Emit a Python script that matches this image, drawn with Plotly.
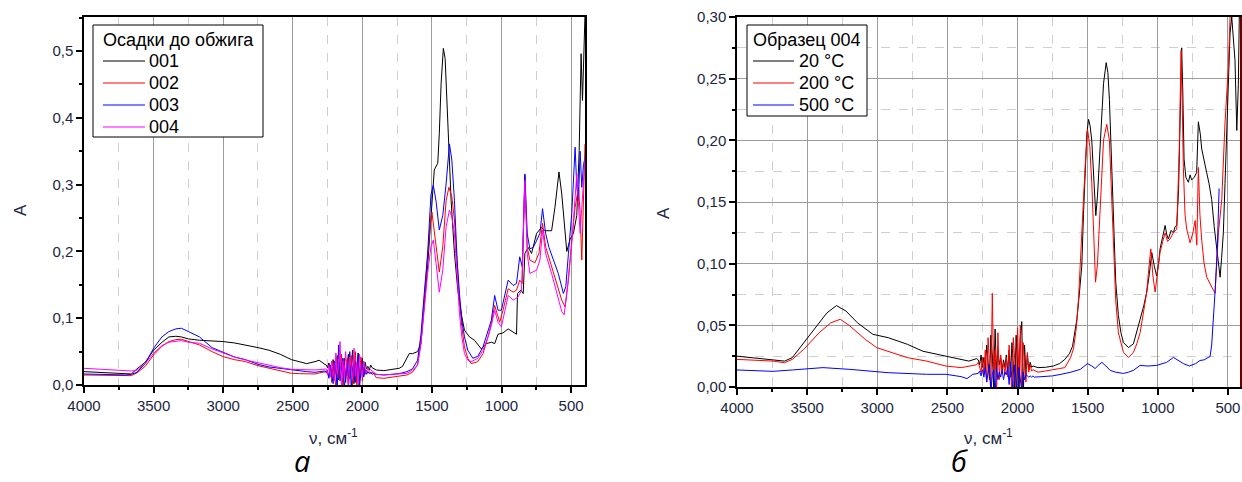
import plotly.graph_objects as go

# ---------------- Panel а : "Осадки до обжига" ----------------
L_HEAD_NU = [4000, 3900, 3780, 3700, 3660, 3620, 3560, 3500, 3440, 3390, 3340, 3300, 3250,
             3170, 3080, 3000, 2920, 2840, 2750, 2670, 2590, 2510, 2450, 2400, 2340, 2310, 2270]
L_NOISE_NU = [2260, 2250, 2240, 2230, 2220, 2210, 2200, 2190, 2180, 2170, 2160, 2150, 2140,
              2130, 2120, 2110, 2100, 2090, 2080, 2070, 2060, 2050, 2040, 2030, 2020, 2010,
              2000, 1990, 1980, 1970, 1960, 1950, 1940, 1930, 1920]

s001_head = [0.020, 0.019, 0.0185, 0.017, 0.0165, 0.024, 0.034, 0.052, 0.064, 0.072, 0.073, 0.072,
             0.069, 0.067, 0.066, 0.065, 0.063, 0.060, 0.056, 0.052, 0.046, 0.038, 0.035, 0.032,
             0.035, 0.037, 0.031]
s001_noise = [0.030, 0.026, 0.033, 0.024, 0.020, 0.038, 0.012, 0.030, 0.044, 0.008, 0.026, 0.034,
              0.016, 0.040, 0.004, 0.030, 0.046, 0.010, 0.024, 0.052, 0.002, 0.036, 0.020, 0.048,
              0.006, 0.030, 0.040, 0.014, 0.034, 0.024, 0.028, 0.022, 0.030, 0.026, 0.025]
s001_tail_nu = [1900, 1845, 1790, 1735, 1711, 1687, 1663, 1639, 1603, 1579, 1555, 1531, 1507, 1483,
                1458, 1447, 1434, 1418, 1405, 1391, 1381, 1362, 1338, 1314, 1285, 1266, 1230, 1194,
                1145, 1109, 1073, 1049, 1025, 989, 952, 916, 892, 885, 861, 844, 832, 808, 784, 748,
                712, 688, 640, 616, 587, 567, 555, 531, 507, 483, 459, 442, 428, 418, 411, 400]
s001_tail = [0.0225, 0.0215, 0.023, 0.025, 0.028, 0.037, 0.047, 0.047, 0.050, 0.062, 0.117, 0.177,
             0.250, 0.322, 0.332, 0.376, 0.451, 0.504, 0.489, 0.426, 0.381, 0.276, 0.197, 0.142,
             0.102, 0.082, 0.072, 0.067, 0.054, 0.062, 0.064, 0.062, 0.076, 0.078, 0.084, 0.079,
             0.076, 0.137, 0.142, 0.137, 0.197, 0.206, 0.197, 0.227, 0.236, 0.231, 0.231, 0.266,
             0.319, 0.286, 0.254, 0.200, 0.218, 0.227, 0.254, 0.351, 0.496, 0.426, 0.476, 0.555]

s002_head = [0.015, 0.0145, 0.014, 0.0135, 0.014, 0.018, 0.028, 0.045, 0.058, 0.065, 0.068, 0.0685,
             0.065, 0.060, 0.050, 0.0425, 0.038, 0.035, 0.029, 0.025, 0.021, 0.0175, 0.017, 0.0165,
             0.0165, 0.018, 0.019]
s002_noise = [0.020, 0.016, 0.012, 0.028, 0.004, 0.034, 0.018, -0.004, 0.040, 0.010, 0.022, 0.046,
              -0.006, 0.030, 0.012, 0.038, -0.004, 0.020, 0.044, 0.000, 0.026, 0.050, -0.005, 0.034,
              0.014, 0.042, 0.006, 0.026, 0.016, 0.022, 0.018, 0.020, 0.017, 0.019, 0.018]
s002_tail_nu = [1900, 1845, 1790, 1735, 1679, 1640, 1603, 1579, 1555, 1531, 1514, 1500, 1483, 1463,
                1447, 1422, 1398, 1378, 1357, 1338, 1319, 1302, 1285, 1266, 1242, 1218, 1170, 1133,
                1097, 1073, 1049, 1025, 1013, 989, 952, 916, 892, 869, 851, 832, 815, 796, 760, 731,
                705, 683, 640, 604, 567, 543, 519, 495, 471, 447, 435, 423, 411, 400]
s002_tail = [0.011, 0.010, 0.012, 0.013, 0.015, 0.019, 0.030, 0.065, 0.132, 0.187, 0.237, 0.259,
             0.232, 0.192, 0.169, 0.207, 0.276, 0.296, 0.282, 0.247, 0.177, 0.126, 0.087, 0.057,
             0.040, 0.032, 0.035, 0.047, 0.072, 0.092, 0.119, 0.102, 0.094, 0.112, 0.144, 0.139,
             0.142, 0.157, 0.152, 0.314, 0.206, 0.187, 0.183, 0.197, 0.242, 0.207, 0.177, 0.152,
             0.127, 0.117, 0.157, 0.217, 0.266, 0.296, 0.257, 0.187, 0.276, 0.361]

s003_head = [0.0165, 0.016, 0.0155, 0.015, 0.016, 0.019, 0.032, 0.055, 0.072, 0.080, 0.084, 0.085,
             0.080, 0.072, 0.056, 0.049, 0.042, 0.038, 0.031, 0.027, 0.025, 0.022, 0.021, 0.020,
             0.019, 0.020, 0.021]
s003_noise = [0.019, 0.022, 0.010, 0.030, 0.016, 0.002, 0.036, 0.020, -0.006, 0.060, 0.006, 0.026,
              0.040, -0.005, 0.018, 0.032, 0.008, 0.050, -0.006, 0.024, 0.036, 0.004, 0.028, 0.044,
              -0.004, 0.022, 0.030, 0.012, 0.024, 0.016, 0.020, 0.017, 0.019, 0.016, 0.017]
s003_tail_nu = [1900, 1845, 1790, 1735, 1679, 1640, 1603, 1579, 1555, 1531, 1507, 1490, 1470, 1447,
                1422, 1398, 1374, 1357, 1338, 1319, 1302, 1285, 1266, 1242, 1206, 1170, 1133, 1097,
                1073, 1049, 1025, 1001, 977, 952, 916, 892, 869, 851, 832, 815, 796, 772, 748, 724,
                705, 683, 659, 628, 592, 555, 538, 519, 495, 471, 459, 447, 435, 423, 411, 400]
s003_tail = [0.016, 0.015, 0.016, 0.017, 0.020, 0.024, 0.037, 0.075, 0.137, 0.196, 0.285, 0.299,
             0.275, 0.232, 0.254, 0.301, 0.361, 0.337, 0.276, 0.187, 0.137, 0.097, 0.072, 0.052,
             0.040, 0.043, 0.057, 0.082, 0.097, 0.134, 0.112, 0.112, 0.132, 0.157, 0.149, 0.152,
             0.192, 0.177, 0.316, 0.226, 0.204, 0.206, 0.216, 0.227, 0.264, 0.227, 0.206, 0.187,
             0.167, 0.137, 0.147, 0.197, 0.257, 0.356, 0.296, 0.276, 0.350, 0.296, 0.330, 0.340]

s004_head = [0.025, 0.024, 0.023, 0.0225, 0.021, 0.022, 0.032, 0.0475, 0.059, 0.064, 0.066, 0.0665,
             0.064, 0.0625, 0.054, 0.0475, 0.042, 0.0375, 0.033, 0.029, 0.026, 0.0235, 0.023,
             0.0225, 0.0225, 0.023, 0.024]
s004_noise = [0.024, 0.018, 0.030, 0.012, 0.036, 0.022, 0.006, 0.048, 0.016, 0.030, 0.065, -0.006,
              0.036, 0.010, 0.050, 0.020, -0.004, 0.042, 0.026, 0.008, 0.055, 0.014, 0.034, -0.004,
              0.046, 0.020, 0.012, 0.036, 0.024, 0.018, 0.026, 0.021, 0.023, 0.021, 0.020]
s004_tail_nu = [1900, 1845, 1790, 1735, 1679, 1640, 1603, 1579, 1555, 1531, 1507, 1490, 1470, 1447,
                1422, 1398, 1374, 1357, 1338, 1319, 1302, 1285, 1266, 1242, 1218, 1170, 1133, 1097,
                1073, 1049, 1025, 1001, 977, 952, 916, 880, 856, 832, 815, 796, 748, 724, 705, 683,
                640, 604, 567, 550, 531, 495, 476, 459, 435, 418, 400]
s004_tail = [0.016, 0.015, 0.016, 0.017, 0.0175, 0.022, 0.030, 0.060, 0.117, 0.167, 0.207, 0.217,
             0.182, 0.139, 0.172, 0.237, 0.262, 0.252, 0.227, 0.157, 0.107, 0.072, 0.047, 0.037,
             0.035, 0.040, 0.052, 0.072, 0.089, 0.112, 0.094, 0.087, 0.112, 0.134, 0.127, 0.132,
             0.142, 0.306, 0.196, 0.167, 0.172, 0.187, 0.232, 0.197, 0.167, 0.137, 0.110, 0.105,
             0.137, 0.212, 0.266, 0.316, 0.227, 0.276, 0.340]

LEFT_TITLE = "Осадки до обжига"
LEFT_NAMES = ["001", "002", "003", "004"]
LEFT_COLORS = ["#000000", "#ff0000", "#0000ff", "#ff00ff"]

# ---------------- Panel б : "Образец 004" ----------------
R_NOISE_NU = [2280, 2270, 2260, 2250, 2240, 2230, 2220, 2210, 2200, 2190, 2180, 2170, 2160, 2150,
              2140, 2130, 2120, 2110, 2100, 2090, 2080, 2070, 2060, 2050, 2040, 2030, 2020, 2010,
              2000, 1990, 1980, 1970, 1960, 1950, 1940, 1930, 1920, 1910, 1900, 1890]

t20_head_nu = [4000, 3880, 3743, 3661, 3606, 3524, 3442, 3360, 3291, 3223, 3141, 3031, 2922, 2785,
               2675, 2566, 2456, 2347, 2292]
t20_head = [0.025, 0.0238, 0.0224, 0.021, 0.0238, 0.036, 0.048, 0.060, 0.066, 0.0616, 0.052, 0.0427,
            0.040, 0.0346, 0.029, 0.0265, 0.0238, 0.021, 0.023]
t20_noise = [0.022, 0.018, 0.026, 0.016, 0.024, 0.014, 0.034, 0.020, 0.006, 0.042, 0.026, 0.000,
             0.047, 0.012, 0.030, 0.018, 0.024, 0.014, 0.022, 0.016, 0.026, 0.012, 0.030, 0.008,
             0.036, 0.018, -0.004, 0.042, 0.020, -0.010, 0.040, 0.053, -0.012, 0.034, 0.010, 0.026,
             0.014, 0.020, 0.016, 0.017]
t20_tail_nu = [1854, 1800, 1745, 1700, 1663, 1630, 1608, 1590, 1577, 1560, 1542, 1530, 1518, 1506,
               1494, 1483, 1471, 1458, 1442, 1430, 1411, 1400, 1387, 1368, 1356, 1345, 1330, 1316,
               1300, 1281, 1263, 1245, 1209, 1174, 1150, 1126, 1100, 1079, 1060, 1043, 1025, 1008,
               995, 984, 965, 948, 937, 925, 905, 889, 877, 865, 852, 842, 830, 822, 813, 800, 782,
               770, 759, 740, 723, 711, 697, 687, 670, 652, 635, 616, 598, 580, 556, 545, 533, 521,
               509, 497, 485, 473, 462, 450, 437, 426, 418, 405]
t20_tail = [0.0157, 0.016, 0.017, 0.019, 0.0224, 0.027, 0.033, 0.045, 0.055, 0.075, 0.098, 0.14,
            0.179, 0.205, 0.217, 0.212, 0.200, 0.170, 0.139, 0.155, 0.193, 0.220, 0.246, 0.263,
            0.255, 0.233, 0.180, 0.125, 0.085, 0.058, 0.044, 0.036, 0.032, 0.035, 0.044, 0.055,
            0.066, 0.077, 0.092, 0.109, 0.098, 0.090, 0.100, 0.112, 0.122, 0.131, 0.124, 0.120,
            0.127, 0.125, 0.130, 0.131, 0.160, 0.206, 0.275, 0.240, 0.185, 0.170, 0.166, 0.172,
            0.168, 0.170, 0.174, 0.215, 0.205, 0.193, 0.185, 0.174, 0.165, 0.152, 0.130, 0.114,
            0.089, 0.105, 0.125, 0.165, 0.203, 0.250, 0.287, 0.300, 0.279, 0.265, 0.208, 0.245,
            0.310, 0.330]

t200_head_nu = [4000, 3880, 3743, 3661, 3606, 3524, 3414, 3332, 3264, 3195, 3086, 3004, 2894, 2785,
                2648, 2511, 2402, 2319, 2292]
t200_head = [0.0224, 0.0219, 0.021, 0.0197, 0.0224, 0.0305, 0.044, 0.052, 0.0549, 0.0495, 0.0386,
             0.0319, 0.0278, 0.0238, 0.021, 0.017, 0.0157, 0.017, 0.018]
t200_noise = [0.020, 0.016, 0.012, 0.024, 0.010, 0.030, 0.004, 0.040, 0.014, -0.006, 0.076, 0.010,
              0.030, -0.008, 0.044, 0.006, 0.026, 0.012, 0.020, 0.010, 0.024, 0.008, 0.034, 0.014,
              -0.006, 0.040, 0.022, -0.010, 0.048, 0.010, 0.050, -0.008, 0.036, 0.020, 0.004, 0.028,
              0.012, 0.018, 0.013, 0.014]
t200_tail_nu = [1854, 1800, 1745, 1700, 1663, 1622, 1601, 1580, 1565, 1554, 1535, 1518, 1501, 1485,
                1471, 1458, 1444, 1430, 1411, 1400, 1387, 1364, 1345, 1330, 1316, 1300, 1281, 1245,
                1209, 1174, 1150, 1126, 1103, 1079, 1065, 1050, 1035, 1019, 1000, 984, 965, 948, 930,
                913, 890, 865, 847, 834, 826, 818, 806, 794, 770, 750, 734, 722, 711, 700, 687, 670,
                651, 630, 615, 592, 568, 544, 521, 497, 485, 470, 440, 405]
t200_tail = [0.012, 0.013, 0.0138, 0.015, 0.0157, 0.0238, 0.031, 0.049, 0.072, 0.098, 0.140, 0.179,
             0.209, 0.195, 0.166, 0.120, 0.085, 0.100, 0.139, 0.170, 0.200, 0.213, 0.200, 0.160,
             0.112, 0.070, 0.044, 0.028, 0.024, 0.028, 0.035, 0.044, 0.060, 0.077, 0.095, 0.112,
             0.090, 0.077, 0.095, 0.109, 0.118, 0.125, 0.118, 0.120, 0.125, 0.128, 0.193, 0.273,
             0.230, 0.178, 0.140, 0.128, 0.117, 0.125, 0.135, 0.115, 0.178, 0.140, 0.119, 0.100,
             0.089, 0.085, 0.081, 0.076, 0.125, 0.152, 0.214, 0.260, 0.300, 0.320, 0.330, 0.330]

t500_head_nu = [4000, 3743, 3606, 3387, 3195, 2922, 2648, 2511, 2402, 2360, 2319, 2292]
t500_head = [0.0138, 0.0127, 0.0138, 0.0157, 0.0143, 0.0116, 0.0103, 0.0103, 0.0084, 0.0068, 0.0103,
             0.011]
t500_noise = [0.011, 0.013, 0.009, 0.014, 0.008, 0.016, 0.004, 0.012, 0.018, -0.004, 0.010, 0.014,
              -0.006, 0.016, 0.006, 0.012, 0.008, 0.014, 0.006, 0.012, 0.010, 0.016, 0.002, 0.020,
              0.010, -0.006, 0.018, 0.004, -0.008, 0.016, 0.008, -0.004, 0.012, 0.006, 0.010, 0.009,
              0.008, 0.009, 0.008, 0.009]
t500_tail_nu = [1880, 1827, 1750, 1690, 1620, 1553, 1501, 1470, 1447, 1420, 1399, 1370, 1340, 1300,
                1245, 1210, 1174, 1126, 1070, 1008, 937, 889, 860, 818, 775, 759, 730, 699, 670, 640,
                628, 616, 600, 592, 576, 563]
t500_tail = [0.008, 0.0084, 0.009, 0.0103, 0.012, 0.0143, 0.019, 0.017, 0.015, 0.018, 0.020, 0.017,
             0.0135, 0.012, 0.011, 0.012, 0.0135, 0.0175, 0.017, 0.0175, 0.020, 0.024, 0.022, 0.019,
             0.017, 0.0175, 0.019, 0.0215, 0.022, 0.024, 0.0245, 0.034, 0.060, 0.077, 0.112, 0.161]

RIGHT_TITLE = "Образец 004"
RIGHT_NAMES = ["20 °C", "200 °C", "500 °C"]
RIGHT_COLORS = ["#000000", "#ff0000", "#0000ff"]

# ---------------- build figure ----------------
fig = go.Figure()

left_series = [
    (L_HEAD_NU + L_NOISE_NU + s001_tail_nu, s001_head + s001_noise + s001_tail),
    (L_HEAD_NU + L_NOISE_NU + s002_tail_nu, s002_head + s002_noise + s002_tail),
    (L_HEAD_NU + L_NOISE_NU + s003_tail_nu, s003_head + s003_noise + s003_tail),
    (L_HEAD_NU + L_NOISE_NU + s004_tail_nu, s004_head + s004_noise + s004_tail),
]
for (nu, a), name, col in zip(left_series, LEFT_NAMES, LEFT_COLORS):
    fig.add_trace(go.Scatter(x=nu, y=a, mode="lines", name=name, line=dict(color=col, width=1),
                             xaxis="x", yaxis="y", showlegend=False))

right_series = [
    (t20_head_nu + R_NOISE_NU + t20_tail_nu, t20_head + t20_noise + t20_tail),
    (t200_head_nu + R_NOISE_NU + t200_tail_nu, t200_head + t200_noise + t200_tail),
    (t500_head_nu + R_NOISE_NU + t500_tail_nu, t500_head + t500_noise + t500_tail),
]
for (nu, a), name, col in zip(right_series, RIGHT_NAMES, RIGHT_COLORS):
    fig.add_trace(go.Scatter(x=nu, y=a, mode="lines", name=name, line=dict(color=col, width=1),
                             xaxis="x2", yaxis="y2", showlegend=False))

W, H = 1242, 482
TICKCOL = "#1b2540"
tickfont = dict(family="Liberation Sans, Arial, sans-serif", size=15, color=TICKCOL)
MAJ_GRID = "#9c9c9c"
MIN_GRID = "#cfcfcf"

def xaxis_cfg(domain, rng, anchor):
    return dict(domain=domain, range=rng, anchor=anchor, dtick=500, tick0=0, automargin=False,
                showline=True, linecolor="black", linewidth=1.5, mirror=True,
                ticks="outside", ticklen=6, tickwidth=1.5, tickcolor="black",
                showgrid=True, gridcolor=MAJ_GRID, gridwidth=1, zeroline=False,
                tickfont=tickfont,
                minor=dict(dtick=250, tick0=0, ticks="outside", ticklen=3.5, tickwidth=1.5,
                           tickcolor="black", showgrid=True, gridcolor=MIN_GRID, griddash="dash",
                           gridwidth=1))

fig.update_layout(
    width=W, height=H, autosize=False,
    margin=dict(l=0, r=0, t=0, b=0, pad=0, autoexpand=False),
    paper_bgcolor="white", plot_bgcolor="white",
    separators=", ",
    showlegend=False,
    xaxis=xaxis_cfg([84 / W, 585 / W], [4000, 400], "y"),
    yaxis=dict(domain=[(H - 385) / H, (H - 17) / H], range=[0, 0.551], anchor="x",
               dtick=0.1, tick0=0, tickformat=".1f", automargin=False,
               showline=True, linecolor="black", linewidth=1.5, mirror=True,
               ticks="outside", ticklen=6, tickwidth=1.5, tickcolor="black",
               showgrid=False, zeroline=False, tickfont=tickfont,
               minor=dict(dtick=0.05, tick0=0, ticks="outside", ticklen=3.5, tickwidth=1.5,
                          tickcolor="black", showgrid=False)),
    xaxis2=xaxis_cfg([737 / W, 1241 / W], [4000, 407], "y2"),
    yaxis2=dict(domain=[(H - 387) / H, (H - 17) / H], range=[0, 0.30], anchor="x2",
                dtick=0.05, tick0=0, tickformat=".2f", automargin=False,
                showline=True, linecolor="black", linewidth=1.5, mirror=True,
                ticks="outside", ticklen=6, tickwidth=1.5, tickcolor="black",
                showgrid=True, gridcolor=MAJ_GRID, gridwidth=1, zeroline=False, tickfont=tickfont,
                minor=dict(dtick=0.025, tick0=0, ticks="outside", ticklen=3.5, tickwidth=1.5,
                           tickcolor="black", showgrid=True, gridcolor=MIN_GRID, griddash="dash",
                           gridwidth=1)),
)

# right edge of panel б in dark red
fig.add_shape(type="line", xref="x2 domain", yref="y2 domain", x0=1, x1=1, y0=0, y1=1,
              line=dict(color="#6b0000", width=2))

# ---------- legends (boxed, Origin style) ----------
legend_font = dict(family="Liberation Sans, Arial, sans-serif", size=18, color="black")

def px(x):
    return x / W

def py(y):
    return (H - y) / H

def draw_legend(box, title, title_xy, names, colors, rows_y, line_x, text_x):
    x0, x1, y0, y1 = box
    fig.add_shape(type="rect", xref="paper", yref="paper", x0=px(x0), x1=px(x1),
                  y0=py(y1), y1=py(y0), line=dict(color="black", width=1),
                  fillcolor="white", layer="above")
    fig.add_annotation(xref="paper", yref="paper", x=px(title_xy[0]), y=py(title_xy[1]),
                       text=title, showarrow=False, font=legend_font,
                       xanchor="left", yanchor="middle")
    for name, col, yy in zip(names, colors, rows_y):
        fig.add_shape(type="line", xref="paper", yref="paper", x0=px(line_x[0]), x1=px(line_x[1]),
                      y0=py(yy), y1=py(yy), line=dict(color=col, width=1.2), layer="above")
        fig.add_annotation(xref="paper", yref="paper", x=px(text_x), y=py(yy), text=name,
                           showarrow=False, font=legend_font, xanchor="left", yanchor="middle")

draw_legend((93, 263, 25, 137), LEFT_TITLE, (101, 40), LEFT_NAMES, LEFT_COLORS,
            [61, 83, 105, 127], (103, 145), 147)
draw_legend((747, 867, 25, 116), RIGHT_TITLE, (751, 40), RIGHT_NAMES, RIGHT_COLORS,
            [61, 83, 105], (753, 794), 797)

# ---------- axis titles and panel labels ----------
title_font = dict(family="Liberation Sans, Arial, sans-serif", size=17, color=TICKCOL)
annots = [
    dict(x=20, y=210, text="A", textangle=-90),
    dict(x=663, y=213, text="A", textangle=-90),
    dict(x=333, y=437, text="ν, см<sup>-1</sup>", textangle=0),
    dict(x=988, y=437, text="ν, см<sup>-1</sup>", textangle=0),
]
for a in annots:
    fig.add_annotation(xref="paper", yref="paper", x=px(a["x"]), y=py(a["y"]), text=a["text"],
                       textangle=a["textangle"], showarrow=False, font=title_font,
                       xanchor="center", yanchor="middle")

panel_font = dict(family="Open Sans, DejaVu Sans, sans-serif", size=29, color="black")
fig.add_annotation(xref="paper", yref="paper", x=px(302), y=0.0, text="<i>а</i>",
                   showarrow=False, font=panel_font, xanchor="center", yanchor="bottom")
fig.add_annotation(xref="paper", yref="paper", x=px(959), y=0.0, text="<i>б</i>",
                   showarrow=False, font=panel_font, xanchor="center", yanchor="bottom")

fig.write_html("out.html", config={"displayModeBar": False},
               post_script="document.body.style.margin='0px';")
